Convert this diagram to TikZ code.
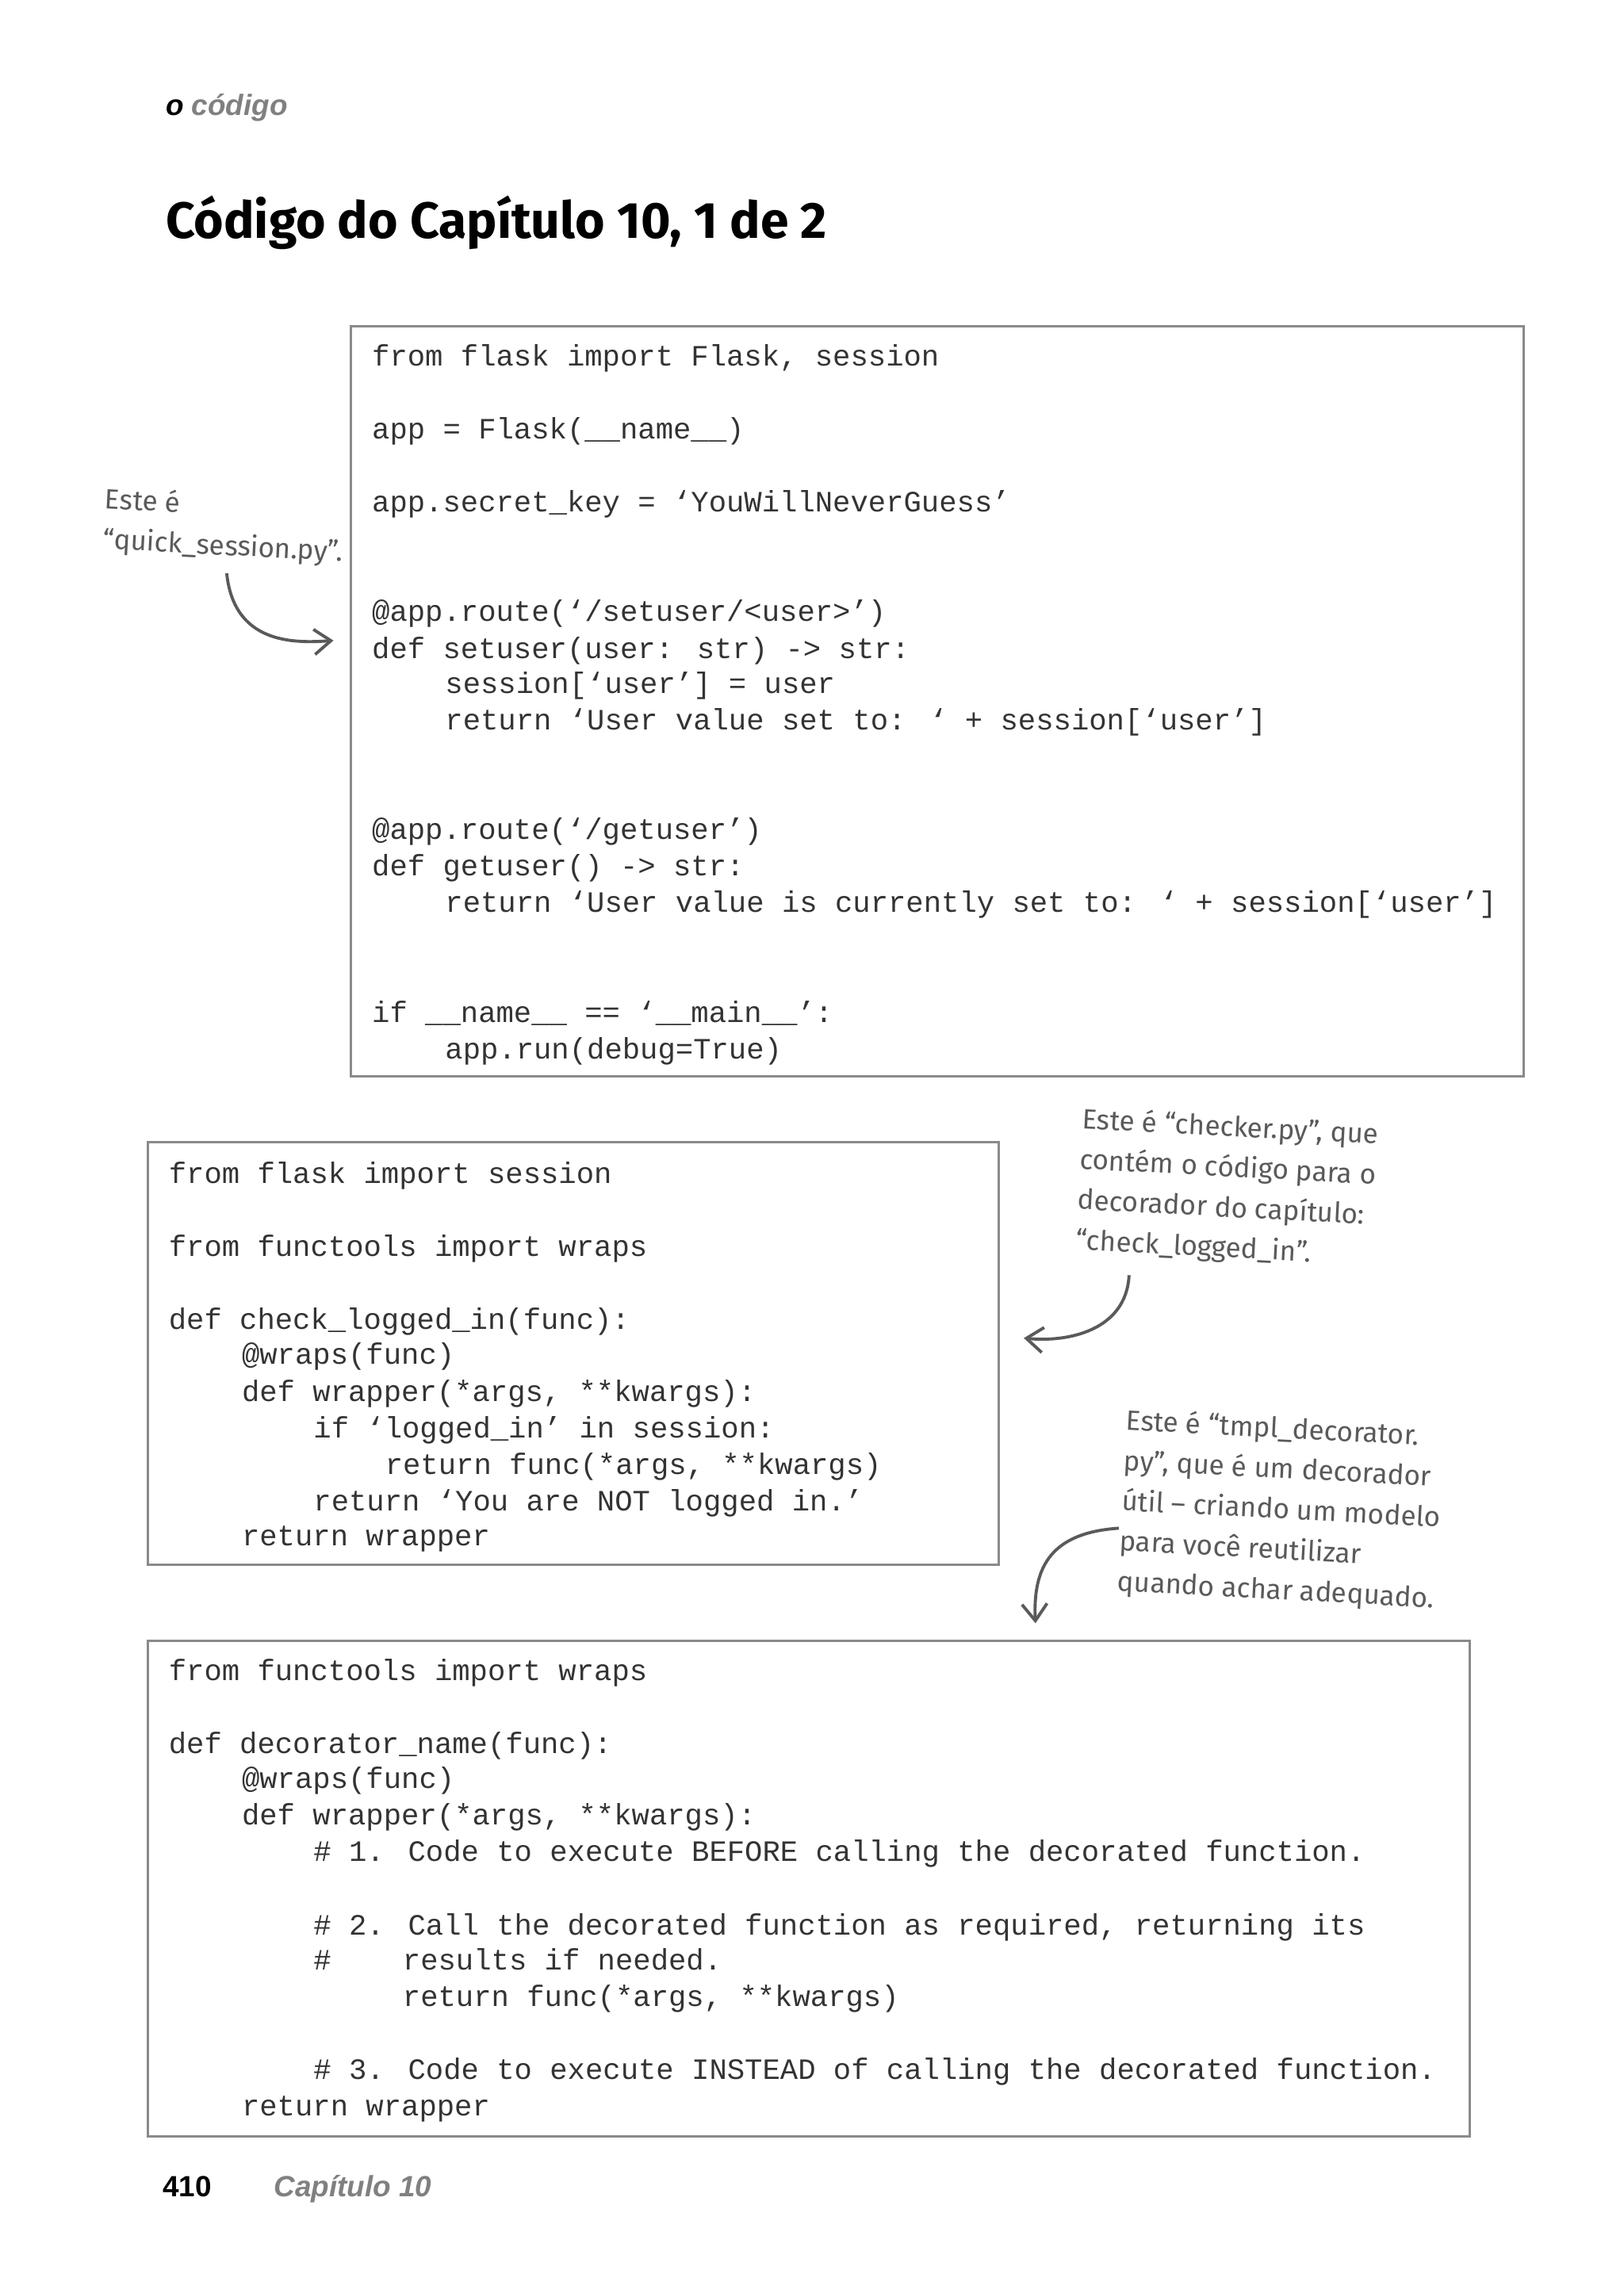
\documentclass[tikz,border=0pt]{standalone}
\usepackage{fontspec}
\setmainfont{Liberation Sans}
\newfontfamily\codefont{Liberation Mono}
\newfontfamily\handfont{Fira Sans}
\usetikzlibrary{arrows.meta}
\definecolor{ink}{HTML}{333333}
\definecolor{hand}{HTML}{5A5A5A}
\definecolor{frame}{HTML}{8A8A8A}
\tikzset{
 codebox/.style={draw=frame,line width=0.8pt},
 cl/.style={anchor=mid west,inner sep=0pt,font=\codefont\fontsize{10.6}{13}\selectfont,text=ink},
 note/.style={align=left,font=\handfont\fontsize{10}{14.5}\selectfont,text=hand,inner sep=0pt},
 arr/.style={draw=hand,line width=1.1pt,-{Straight Barb[length=6pt,width=9pt]}}
}
\newcommand{\codeln}[4]{\node[cl] (#1) at (#2,#3+2) {#4};}
\begin{document}
\begin{tikzpicture}[x=0.01845cm,y=-0.01845cm]
\useasboundingbox (0,0) rectangle (1110,1568);
\node[anchor=mid west,inner sep=0pt,font=\bfseries\itshape\fontsize{10.5}{12}\selectfont] (hdr) at (113,74) {o \textcolor{gray}{código}};
\node[anchor=west,inner sep=0pt] (title) at (113,152) {\resizebox{8.34cm}{!}{\handfont\bfseries Código do Capítulo 10, 1 de 2}};
\node[anchor=mid west,inner sep=0pt,font=\bfseries\fontsize{10.5}{12}\selectfont] (pg) at (111,1497) {410};
\node[anchor=mid west,inner sep=0pt,font=\bfseries\itshape\fontsize{10.5}{12}\selectfont,text=gray] (ch) at (187,1497) {Capítulo 10};
% boxes
\draw[codebox] (240,223) rectangle (1042,736);
\coordinate (b1) at (228,438);
\draw[codebox] (101,781) rectangle (683,1070);
\coordinate (b2) at (700,915);
\draw[codebox] (101,1122) rectangle (1005,1461);
\coordinate (b3) at (708,1110);
% box 1
\codeln{a1}{254}{243}{from flask import Flask, session}
\codeln{a2}{254}{293}{app = Flask(\_\_name\_\_)}
\codeln{a3}{254}{343}{app.secret\_key = ‘YouWillNeverGuess’}
\codeln{a4}{254}{418}{@app.route(‘/setuser/<user>’)}
\codeln{a5}{254}{443}{def setuser(user: str) -> str:}
\codeln{a6}{304}{467}{session[‘user’] = user}
\codeln{a7}{304}{492}{return ‘User value set to: ‘ + session[‘user’]}
\codeln{a8}{254}{567}{@app.route(‘/getuser’)}
\codeln{a9}{254}{592}{def getuser() -> str:}
\codeln{a10}{304}{617}{return ‘User value is currently set to: ‘ + session[‘user’]}
\codeln{a11}{254}{692}{if \_\_name\_\_ == ‘\_\_main\_\_’:}
\codeln{a12}{304}{717}{app.run(debug=True)}
% box 2
\codeln{c1}{115}{802}{from flask import session}
\codeln{c2}{115}{852}{from functools import wraps}
\codeln{c3}{115}{902}{def check\_logged\_in(func):}
\codeln{c4}{165}{926}{@wraps(func)}
\codeln{c5}{165}{951}{def wrapper(*args, **kwargs):}
\codeln{c6}{214}{976}{if ‘logged\_in’ in session:}
\codeln{c7}{263}{1001}{return func(*args, **kwargs)}
\codeln{c8}{214}{1026}{return ‘You are NOT logged in.’}
\codeln{c9}{165}{1050}{return wrapper}
% box 3
\codeln{d1}{115}{1142}{from functools import wraps}
\codeln{d2}{115}{1192}{def decorator\_name(func):}
\codeln{d3}{165}{1216}{@wraps(func)}
\codeln{d4}{165}{1241}{def wrapper(*args, **kwargs):}
\codeln{d5}{214}{1266}{\# 1. Code to execute BEFORE calling the decorated function.}
\codeln{d6}{214}{1316}{\# 2. Call the decorated function as required, returning its}
\codeln{d7}{214}{1340}{\#}
\codeln{d7b}{275}{1340}{results if needed.}
\codeln{d8}{275}{1365}{return func(*args, **kwargs)}
\codeln{d9}{214}{1415}{\# 3. Code to execute INSTEAD of calling the decorated function.}
\codeln{d10}{165}{1440}{return wrapper}
% notes
\node[note,anchor=north west,rotate=-3] (n1) at (72,332) {Este é\\“quick\_session.py”.};
\draw[arr] (155,392) .. controls (160,440) and (200,440) .. (b1);
\node[note,anchor=north west,rotate=-3] (n2) at (740,756) {Este é “checker.py”, que\\contém o código para o\\decorador do capítulo:\\“check\_logged\_in”.};
\draw[arr] (772,872) .. controls (770,910) and (730,918) .. (b2);
\node[note,anchor=north west,rotate=-3] (n3) at (770,962) {Este é “tmpl\_decorator.\\py”, que é um decorador\\útil – criando um modelo\\para você reutilizar\\quando achar adequado.};
\draw[arr] (765,1045) .. controls (720,1048) and (706,1070) .. (b3);
\end{tikzpicture}
\end{document}
